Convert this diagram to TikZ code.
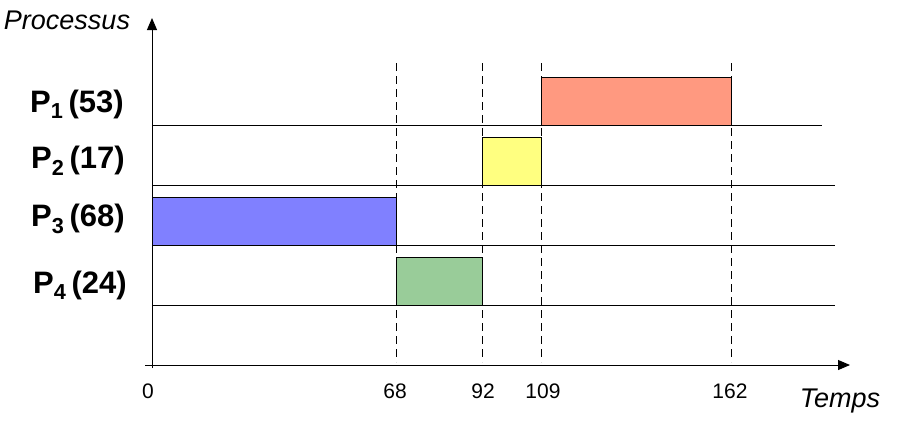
\documentclass[tikz,border=0pt]{standalone}
\usepackage{fontspec}
\setmainfont{Liberation Sans}
\usetikzlibrary{arrows.meta}
\definecolor{procR}{RGB}{255,153,128}
\definecolor{procY}{RGB}{255,255,128}
\definecolor{procB}{RGB}{128,128,255}
\definecolor{procG}{RGB}{153,204,153}

\begin{document}
\begin{tikzpicture}[x=1pt,y=-1pt,>={Triangle[length=12pt,width=10pt]},
  proc/.style={draw=black,line width=1pt},
  guide/.style={line width=1pt,dash pattern=on 8pt off 5pt},
  plabel/.style={font=\fontsize{31}{33}\selectfont\bfseries},
  axlabel/.style={font=\fontsize{27}{29}\selectfont\itshape},
  tick/.style={font=\fontsize{21}{23}\selectfont}]
\useasboundingbox (0,0) rectangle (902,424);
\coordinate (O) at (152,365); \coordinate (Ytop) at (152,18); \coordinate (Xend) at (850,365);
% time guides
\foreach \t/\x in {68/396,92/482,109/541,162/731}
  \draw[guide] (\x,63) -- (\x,362);
% process boxes
\filldraw[proc,fill=procR] (541,77) rectangle (731,125);
\filldraw[proc,fill=procY] (482,137) rectangle (541,185);
\filldraw[proc,fill=procB] (152,197) rectangle (396,245);
\filldraw[proc,fill=procG] (396,257) rectangle (482,305);
% lanes
\draw[line width=1pt] (152,125) -- (822,125);
\foreach \y in {185,245,305}
  \draw[line width=1pt] (152,\y) -- (835,\y);
% axes
\draw[->,line width=1pt] (152,368) -- (Ytop);
\draw[->,line width=1pt] (145,365) -- (Xend);
\node[axlabel] (ylab) at (67,20) {Processus};
\node[axlabel] (xlab) at (840,401) {Temps};
\node[plabel] (p1) at (77,104) {P\textsubscript{1}\,(53)};
\node[plabel] (p2) at (78,161) {P\textsubscript{2}\,(17)};
\node[plabel] (p3) at (78,219) {P\textsubscript{3}\,(68)};
\node[plabel] (p4) at (80,285) {P\textsubscript{4}\,(24)};
\node[tick] (t0) at (148,391) {0};
\node[tick] (t68) at (395,391) {68};
\node[tick] (t92) at (483,391) {92};
\node[tick] (t109) at (543,391) {109};
\node[tick] (t162) at (730,391) {162};
\end{tikzpicture}
\end{document}
